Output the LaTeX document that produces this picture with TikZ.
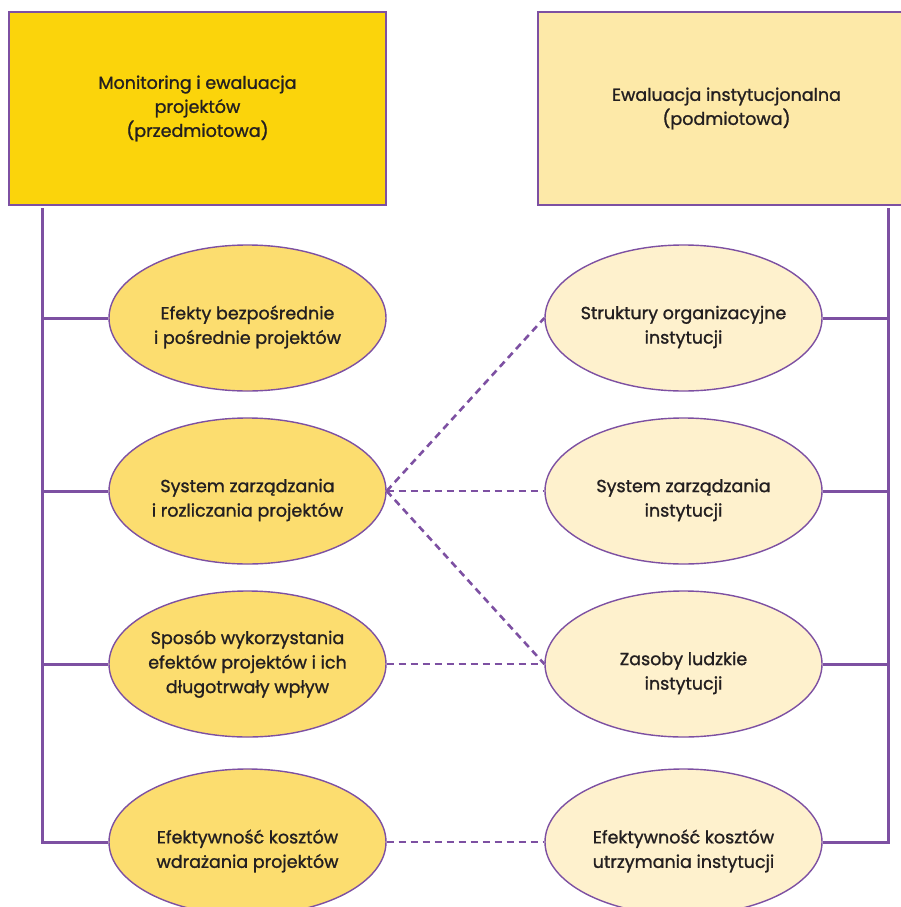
\documentclass[tikz,border=0pt]{standalone}
\usepackage{fontspec}
\setmainfont{Poppins}
\newfontfamily\labelfont{Poppins}[FakeBold=1.2]
\usetikzlibrary{shapes.geometric}
\definecolor{violet}{HTML}{7D50A2}
\definecolor{goldbox}{HTML}{FBD40B}
\definecolor{paleBox}{HTML}{FDE9A8}
\definecolor{goldoval}{HTML}{FCDD6F}
\definecolor{paleoval}{HTML}{FEF1CD}
\definecolor{ink}{HTML}{231F20}
\tikzset{
  headbox/.style={draw=violet, line width=1.4pt, minimum width=377pt, minimum height=193pt,
    inner sep=0pt, align=center, text=ink, font=\labelfont\fontsize{17.5}{24}\selectfont},
  oval/.style={ellipse, draw=violet, line width=1.4pt, minimum width=277pt, minimum height=146pt,
    inner sep=0pt},
  lbl/.style={align=center, inner sep=0pt, text=ink, font=\labelfont\fontsize{17.5}{24.5}\selectfont},
  trunk/.style={draw=violet, line width=3pt},
  link/.style={draw=violet, line width=2.6pt, dash pattern=on 7pt off 5pt}
}
\begin{document}
\begin{tikzpicture}[x=1pt, y=-1pt]
\useasboundingbox (0,0) rectangle (901,907);
% header boxes
\node[headbox, fill=goldbox] (hl) at (197.5,108.5) {Monitoring i ewaluacja\\projektów\\(przedmiotowa)};
\node[headbox, fill=paleBox] (hr) at (726.5,108.5) {Ewaluacja instytucjonalna\\(podmiotowa)};
% left column ovals
\node[oval, fill=goldoval] (l1) at (247.5,318) {};
\node[oval, fill=goldoval] (l2) at (247.5,491) {};
\node[oval, fill=goldoval] (l3) at (247.5,664) {};
\node[oval, fill=goldoval] (l4) at (247.5,842) {};
% right column ovals
\node[oval, fill=paleoval] (r1) at (683.5,318) {};
\node[oval, fill=paleoval] (r2) at (683.5,491) {};
\node[oval, fill=paleoval] (r3) at (683.5,664) {};
\node[oval, fill=paleoval] (r4) at (683.5,842) {};
% oval texts (two-line texts sit a little below the centre)
\node[lbl] (l1t) at ([yshift=-9pt]l1.center) {Efekty bezpośrednie\\i pośrednie projektów};
\node[lbl] (l2t) at ([yshift=-9pt]l2.center) {System zarządzania\\i rozliczania projektów};
\node[lbl] (l3t) at (l3.center) {Sposób wykorzystania\\efektów projektów i ich\\długotrwały wpływ};
\node[lbl] (l4t) at ([yshift=-9pt]l4.center) {Efektywność kosztów\\wdrażania projektów};
\node[lbl] (r1t) at ([yshift=-9pt]r1.center) {Struktury organizacyjne\\instytucji};
\node[lbl] (r2t) at ([yshift=-9pt]r2.center) {System zarządzania\\instytucji};
\node[lbl] (r3t) at ([yshift=-9pt]r3.center) {Zasoby ludzkie\\instytucji};
\node[lbl] (r4t) at ([yshift=-9pt]r4.center) {Efektywność kosztów\\utrzymania instytucji};
% trunks
\coordinate (lt) at (42,208);
\coordinate (rt) at (888,208);
\draw[trunk] (lt) |- (l4.west);
\foreach \n in {l1,l2,l3} \draw[trunk] (\n.west) -- (\n.west -| lt);
\draw[trunk] (rt) |- (r4.east);
\foreach \n in {r1,r2,r3} \draw[trunk] (\n.east) -- (\n.east -| rt);
% dashed links
\draw[link] (l2.east) -- (r1.west);
\draw[link] (l2.east) -- (r2.west);
\draw[link] (l2.east) -- (r3.west);
\draw[link] (l3.east) -- (r3.west);
\draw[link] (l4.east) -- (r4.west);
\end{tikzpicture}
\end{document}
